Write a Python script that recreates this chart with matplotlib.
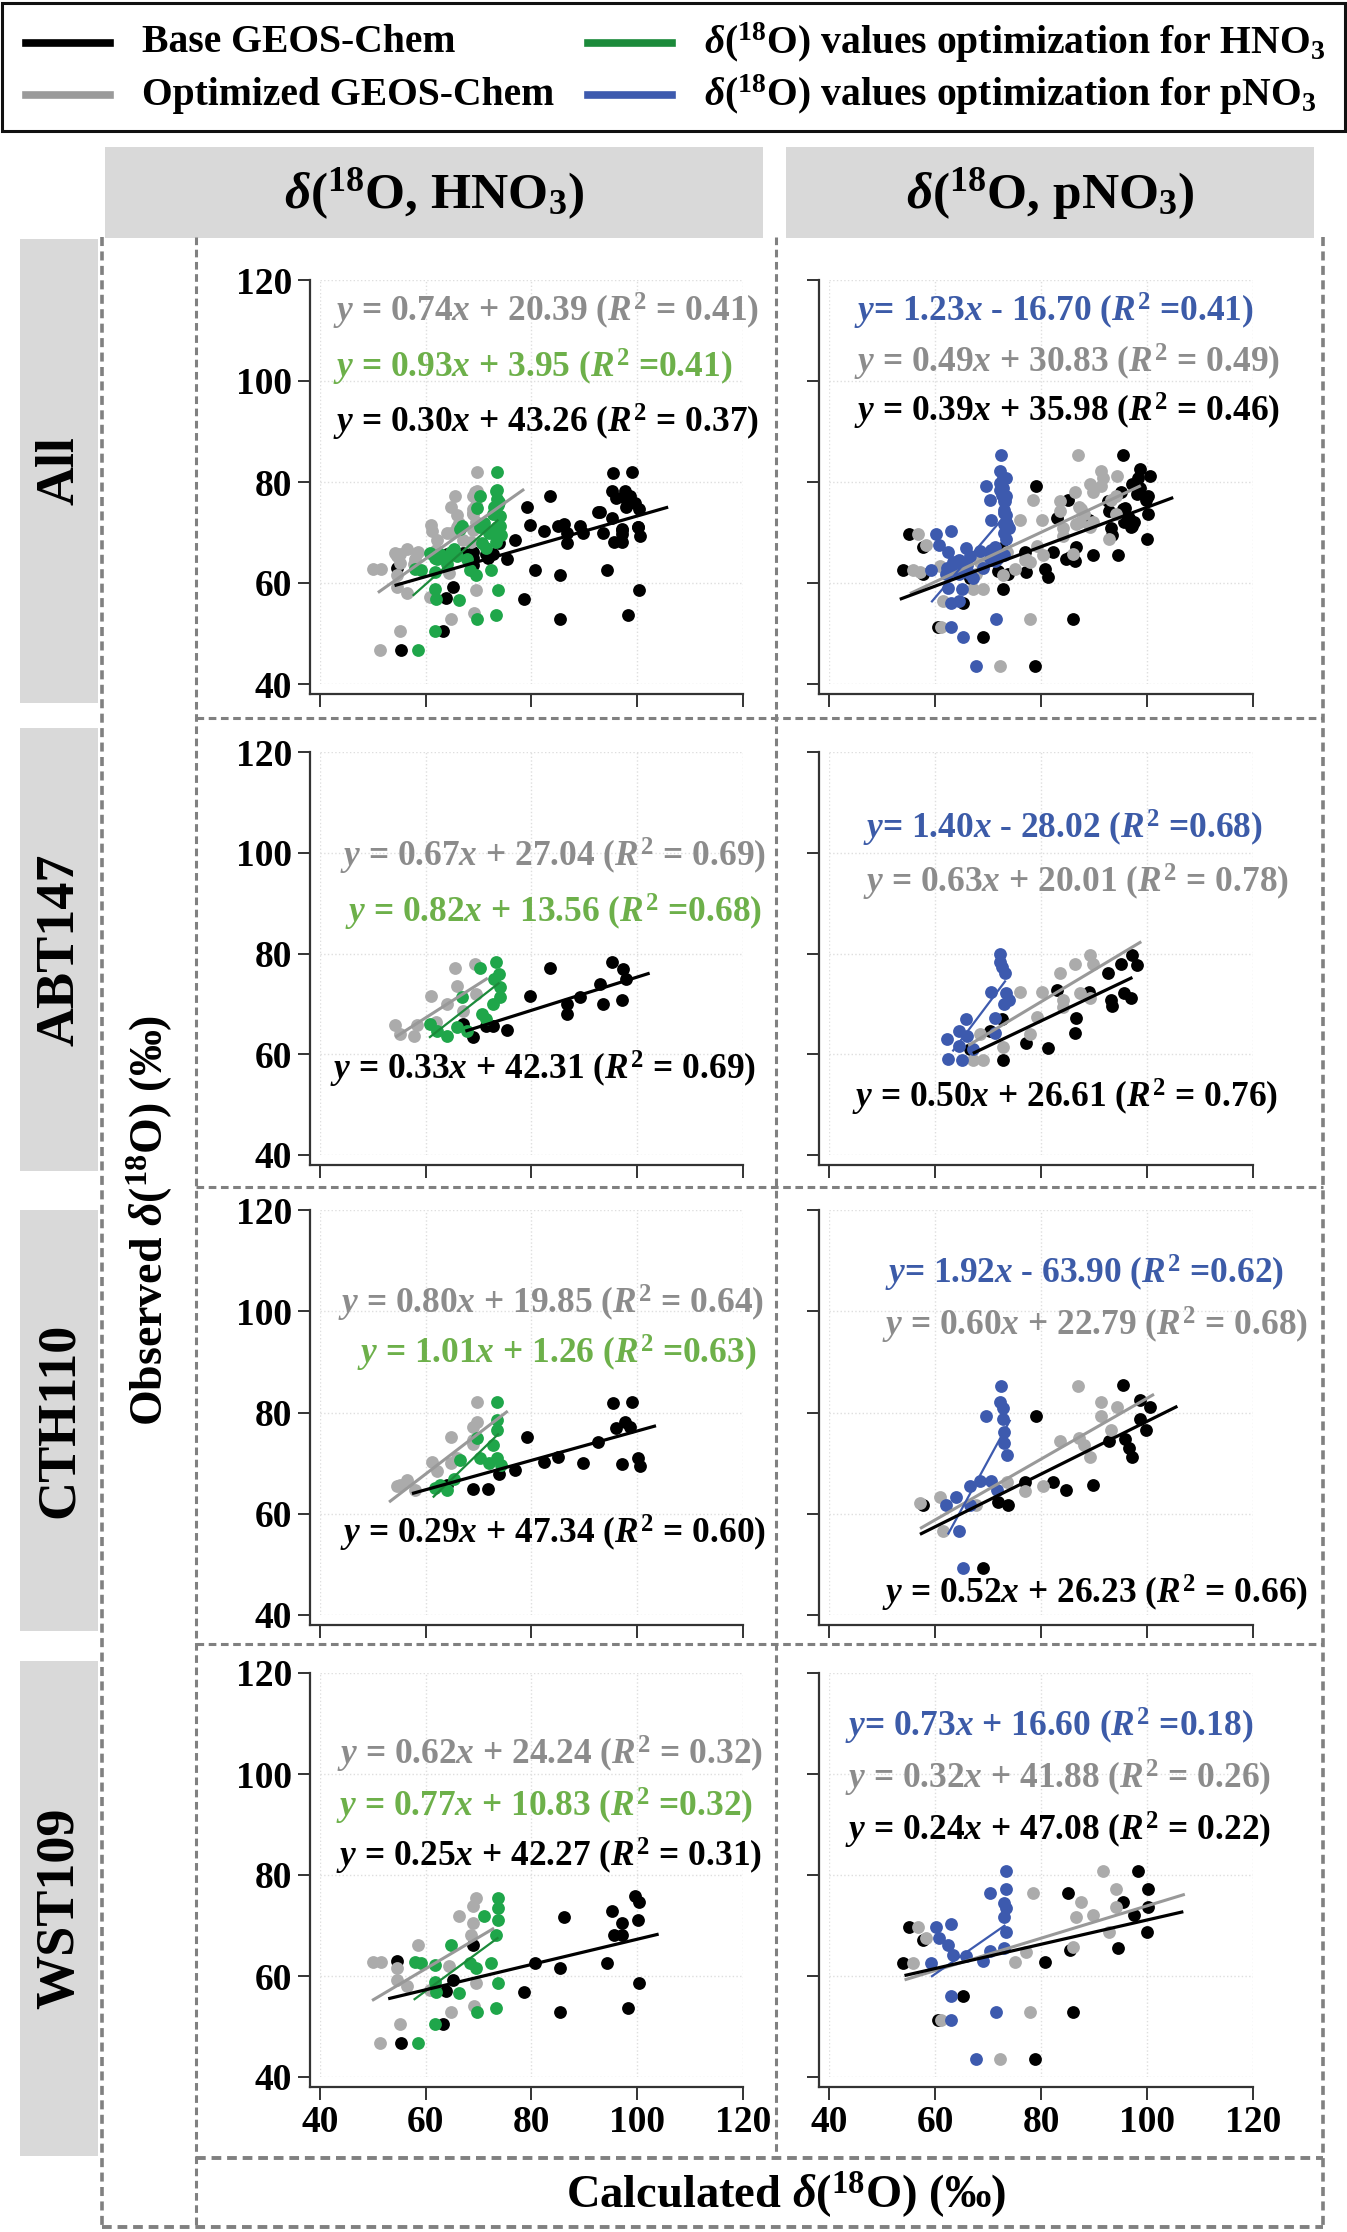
import matplotlib
matplotlib.use("Agg")
import matplotlib.pyplot as plt
from matplotlib.lines import Line2D
from matplotlib.patches import Rectangle
import numpy as np

plt.rcParams['font.family'] = ['Liberation Serif', 'DejaVu Serif']
plt.rcParams['font.weight'] = 'bold'
plt.rcParams['mathtext.fontset'] = 'custom'
plt.rcParams['mathtext.rm'] = 'Liberation Serif:bold'
plt.rcParams['mathtext.it'] = 'Liberation Serif:italic:bold'
plt.rcParams['mathtext.bf'] = 'Liberation Serif:bold'

# ---------------- data ----------------
SITES = ['All', 'ABT147', 'CTH110', 'WST109']
COLUMNS = ['HNO$_3$', 'pNO$_3$']

# ABT147, HNO3
ABT_H_BASE_X = [83.5, 95.2, 97.4, 98.0, 93.0, 79.7, 86.7, 89.2, 93.6, 97.1, 86.7, 67.1, 71.5, 75.3, 69.0, 72.8]
ABT_H_BASE_Y = [77.2, 78.3, 77.0, 75.0, 74.0, 71.5, 70.0, 71.3, 69.9, 70.7, 68.0, 66.0, 65.7, 64.8, 63.5, 65.7]
ABT_H_OPT_X = [65.5, 69.3, 61.1, 54.2, 55.1, 57.7, 58.3, 64.0, 67.0, 69.5, 62.0, 66.0]
ABT_H_OPT_Y = [77.2, 78.0, 71.5, 65.9, 64.0, 63.7, 65.9, 70.0, 68.5, 72.0, 66.5, 73.5]
ABT_H_ISO_X = [70.3, 73.4, 73.8, 74.1, 66.8, 74.1, 70.6, 60.8, 62.1, 64.0, 65.9, 67.8, 72.8, 71.5, 73.0]
ABT_H_ISO_Y = [77.2, 78.3, 76.0, 73.3, 71.3, 71.3, 68.0, 66.0, 64.7, 63.7, 65.4, 64.7, 70.0, 67.0, 75.0]

# ABT147, pNO3
ABT_P_BASE_X = [97.1, 95.2, 98.1, 92.7, 83.0, 89.1, 93.2, 95.7, 97.0, 93.5, 86.7, 86.4, 72.6, 70.4, 77.2, 81.3, 72.9, 66.6]
ABT_P_BASE_Y = [79.7, 78.0, 77.7, 76.2, 72.8, 72.4, 70.8, 72.1, 71.1, 69.6, 67.2, 64.3, 66.9, 64.6, 62.2, 61.2, 58.9, 61.0]
ABT_P_OPT_X = [89.3, 86.4, 83.6, 89.9, 76.0, 80.1, 84.2, 87.4, 89.3, 84.2, 79.2, 77.9, 72.9, 67.2, 69.1, 68.5]
ABT_P_OPT_Y = [79.7, 78.0, 76.2, 78.0, 72.4, 72.4, 70.8, 72.1, 71.1, 69.4, 67.4, 64.1, 61.5, 58.8, 58.8, 64.1]
ABT_P_ISO_X = [72.3, 72.3, 72.6, 73.2, 70.6, 73.4, 74.0, 73.1, 71.3, 65.9, 64.6, 62.2, 66.1, 64.6, 62.5, 65.0, 67.2, 71.3]
ABT_P_ISO_Y = [79.9, 78.4, 77.4, 76.2, 72.4, 72.1, 70.8, 69.9, 67.2, 66.9, 64.6, 63.0, 63.6, 61.7, 59.0, 58.9, 61.0, 64.3]

# CTH110, HNO3
CTH_H_BASE_X = [95.5, 99.0, 97.7, 96.1, 98.6, 79.1, 92.7, 85.1, 82.3, 89.8, 97.1, 100.2, 100.6, 76.9, 73.8, 69.0, 71.8, 64.0]
CTH_H_BASE_Y = [81.8, 82.0, 78.2, 76.9, 77.2, 75.1, 74.1, 71.2, 70.2, 70.0, 69.8, 71.0, 69.4, 68.6, 67.9, 64.9, 64.9, 65.7]
CTH_H_OPT_X = [69.7, 69.7, 69.0, 64.7, 69.0, 61.2, 62.1, 64.7, 55.2, 56.5, 58.0, 54.6, 69.0, 65.9]
CTH_H_OPT_Y = [82.0, 78.2, 77.2, 75.1, 74.6, 70.2, 68.5, 70.0, 65.7, 66.7, 64.7, 65.4, 73.7, 71.0]
CTH_H_ISO_X = [73.5, 73.5, 73.5, 69.7, 72.8, 66.5, 70.3, 73.5, 74.2, 64.0, 62.8, 61.8, 65.3, 72.0]
CTH_H_ISO_Y = [82.0, 78.5, 76.6, 74.9, 73.6, 70.6, 71.0, 71.0, 69.6, 64.7, 65.7, 65.0, 66.8, 70.0]

# CTH110, pNO3
CTH_P_BASE_X = [95.5, 98.7, 100.6, 79.1, 98.7, 99.9, 92.9, 95.8, 96.7, 97.1, 77.0, 82.3, 84.8, 89.8, 71.9, 73.8, 69.1, 57.7]
CTH_P_BASE_Y = [85.4, 82.5, 81.1, 79.3, 78.8, 76.5, 74.3, 74.8, 72.9, 71.3, 66.2, 66.2, 64.7, 65.6, 62.4, 61.8, 49.3, 61.8]
CTH_P_OPT_X = [87.0, 91.4, 94.3, 91.4, 93.3, 83.5, 87.2, 88.2, 89.2, 80.4, 76.9, 73.5, 57.1, 60.9, 61.5, 67.8]
CTH_P_OPT_Y = [85.3, 82.1, 81.1, 79.3, 76.5, 74.3, 75.0, 73.6, 71.3, 65.5, 64.5, 66.2, 62.1, 63.4, 56.5, 61.8]
CTH_P_ISO_X = [72.5, 72.2, 72.8, 69.7, 72.8, 73.1, 73.1, 73.5, 66.5, 68.4, 70.6, 71.6, 64.0, 62.1, 66.5, 64.6, 65.3]
CTH_P_ISO_Y = [85.3, 82.1, 80.8, 79.3, 78.8, 76.2, 73.9, 71.6, 65.4, 66.4, 66.5, 64.7, 63.4, 61.8, 61.8, 56.5, 49.3]

# WST109, HNO3
WST_H_BASE_X = [99.7, 100.4, 86.2, 95.3, 97.2, 100.1, 95.6, 97.2, 68.9, 54.5, 80.6, 85.4, 94.4, 65.2, 100.4, 78.7, 85.4, 98.2, 63.3, 55.4, 63.9]
WST_H_BASE_Y = [75.9, 74.7, 71.6, 72.8, 70.5, 71.1, 68.2, 68.2, 66.2, 62.9, 62.6, 61.6, 62.6, 59.3, 58.6, 56.8, 52.8, 53.7, 50.4, 46.7, 57.0]
WST_H_OPT_X = [69.6, 69.0, 66.4, 69.0, 68.6, 58.6, 50.1, 51.6, 54.5, 54.5, 56.4, 64.5, 69.6, 69.2, 64.8, 55.1, 51.3, 60.8]
WST_H_OPT_Y = [75.4, 73.8, 71.8, 70.5, 68.2, 66.2, 62.7, 62.7, 61.6, 59.3, 58.0, 61.9, 58.6, 54.0, 52.8, 50.4, 46.7, 57.3]
WST_H_ISO_X = [73.6, 73.6, 71.1, 73.6, 73.3, 64.8, 57.9, 59.2, 61.7, 68.3, 69.6, 72.4, 73.6, 61.7, 62.0, 66.4, 69.8, 73.3, 61.7, 58.6]
WST_H_ISO_Y = [75.4, 73.4, 71.8, 71.1, 68.2, 66.2, 62.7, 62.6, 62.2, 62.6, 61.6, 62.6, 58.7, 58.9, 56.9, 56.6, 52.8, 53.7, 50.4, 46.7]

# WST109, pNO3
WST_P_BASE_X = [98.4, 100.3, 85.1, 95.5, 100.3, 97.5, 100.0, 94.6, 85.4, 80.7, 55.1, 57.7, 53.9, 65.2, 86.1, 60.5, 78.8]
WST_P_BASE_Y = [80.7, 77.2, 76.4, 74.7, 73.7, 72.1, 68.8, 65.6, 65.2, 62.8, 69.8, 67.1, 62.6, 56.0, 52.8, 51.3, 43.5]
WST_P_OPT_X = [91.7, 78.5, 94.2, 87.6, 94.2, 86.6, 89.8, 92.9, 86.1, 77.2, 75.0, 56.7, 58.3, 55.8, 77.9, 61.1, 72.2]
WST_P_OPT_Y = [80.7, 76.4, 77.2, 74.7, 73.6, 71.7, 72.1, 68.8, 65.8, 64.8, 62.8, 69.8, 67.5, 62.6, 52.8, 51.3, 43.5]
WST_P_ISO_X = [73.4, 73.4, 70.3, 73.1, 73.4, 73.1, 73.4, 63.0, 60.2, 60.8, 62.4, 63.3, 65.9, 69.0, 70.3, 73.1, 59.2, 63.0, 71.5, 63.0, 67.8]
WST_P_ISO_Y = [80.7, 77.2, 76.4, 74.4, 73.4, 71.7, 68.8, 70.3, 69.8, 67.5, 66.2, 64.2, 63.9, 62.9, 64.9, 65.5, 62.6, 56.0, 52.8, 51.3, 43.5]

# regression fits per panel: (slope, intercept, R2, x_start, x_end), order = optimized, isotope-opt, base
ALL_H_FITS = [(0.74, 20.39, 0.41, 51.2, 78.4), (0.93, 3.95, 0.41, 57.7, 73.6), (0.30, 43.26, 0.37, 54.4, 105.6)]
ALL_P_FITS = [(0.49, 30.83, 0.49, 55.5, 98.6), (1.23, -16.70, 0.41, 59.4, 73.6), (0.39, 35.98, 0.46, 53.6, 104.7)]
ABT_H_FITS = [(0.67, 27.04, 0.69, 54.5, 71.5), (0.82, 13.56, 0.68, 60.8, 73.8), (0.33, 42.31, 0.69, 67.8, 102.1)]
ABT_P_FITS = [(0.63, 20.01, 0.78, 66.5, 98.7), (1.40, -28.02, 0.68, 63.4, 73.2), (0.50, 26.61, 0.76, 67.4, 97.0)]
CTH_H_FITS = [(0.80, 19.85, 0.64, 53.3, 75.3), (1.01, 1.26, 0.63, 61.5, 73.7), (0.29, 47.34, 0.60, 57.7, 103.3)]
CTH_P_FITS = [(0.60, 22.79, 0.68, 57.4, 101.1), (1.92, -63.90, 0.62, 62.5, 74.1), (0.52, 26.23, 0.66, 57.4, 105.5)]
WST_H_FITS = [(0.62, 24.24, 0.32, 50.1, 72.7), (0.77, 10.83, 0.32, 57.9, 73.6), (0.25, 42.27, 0.31, 53.2, 103.8)]
WST_P_FITS = [(0.32, 41.88, 0.26, 54.5, 106.9), (0.73, 16.60, 0.18, 59.4, 73.1), (0.24, 47.08, 0.22, 54.5, 106.6)]

# ---------------- assemble panels ----------------
site_h = {
    'ABT147': (ABT_H_OPT_X, ABT_H_OPT_Y, ABT_H_ISO_X, ABT_H_ISO_Y, ABT_H_BASE_X, ABT_H_BASE_Y),
    'CTH110': (CTH_H_OPT_X, CTH_H_OPT_Y, CTH_H_ISO_X, CTH_H_ISO_Y, CTH_H_BASE_X, CTH_H_BASE_Y),
    'WST109': (WST_H_OPT_X, WST_H_OPT_Y, WST_H_ISO_X, WST_H_ISO_Y, WST_H_BASE_X, WST_H_BASE_Y),
}
site_p = {
    'ABT147': (ABT_P_OPT_X, ABT_P_OPT_Y, ABT_P_ISO_X, ABT_P_ISO_Y, ABT_P_BASE_X, ABT_P_BASE_Y),
    'CTH110': (CTH_P_OPT_X, CTH_P_OPT_Y, CTH_P_ISO_X, CTH_P_ISO_Y, CTH_P_BASE_X, CTH_P_BASE_Y),
    'WST109': (WST_P_OPT_X, WST_P_OPT_Y, WST_P_ISO_X, WST_P_ISO_Y, WST_P_BASE_X, WST_P_BASE_Y),
}
# "All" is every site pooled together
site_h['All'] = tuple(sum((list(site_h[s][k]) for s in SITES[1:]), []) for k in range(6))
site_p['All'] = tuple(sum((list(site_p[s][k]) for s in SITES[1:]), []) for k in range(6))
fits = {
    ('All', 0): ALL_H_FITS, ('All', 1): ALL_P_FITS,
    ('ABT147', 0): ABT_H_FITS, ('ABT147', 1): ABT_P_FITS,
    ('CTH110', 0): CTH_H_FITS, ('CTH110', 1): CTH_P_FITS,
    ('WST109', 0): WST_H_FITS, ('WST109', 1): WST_P_FITS,
}

# ---------------- styling ----------------
PT_COL = {'base': '#000000', 'opt': '#ababab', 'hno3': '#1fa64a', 'pno3': '#3d5aae'}
LN_COL = {'base': '#000000', 'opt': '#999999', 'hno3': '#1b8a3a', 'pno3': '#3d5aae'}
TX_COL = {'base': '#000000', 'opt': '#8c8c8c', 'hno3': '#6db04a', 'pno3': '#3c5ba8'}
DASH = '#808080'

W, H = 1347, 2232
fig = plt.figure(figsize=(W / 100, H / 100), dpi=100)


def fx(x):
    return x / W


def fy(y):
    return 1 - y / H


def hline(x0, x1, y, lw=2.2):
    fig.add_artist(Line2D([fx(x0), fx(x1)], [fy(y), fy(y)], transform=fig.transFigure,
                          color=DASH, lw=lw, ls=(0, (2.5, 1.5))))


def vline(x, y0, y1, lw=2.2):
    fig.add_artist(Line2D([fx(x), fx(x)], [fy(y0), fy(y1)], transform=fig.transFigure,
                          color=DASH, lw=lw, ls=(0, (2.5, 1.5))))


def box(x0, y0, x1, y1, color):
    fig.add_artist(Rectangle((fx(x0), fy(y1)), (x1 - x0) / W, (y1 - y0) / H,
                             transform=fig.transFigure, color=color, lw=0, zorder=0))


# strips
STRIP = '#d9d9d9'
col_strips = [(105, 763), (786, 1314)]
for (x0, x1), name in zip(col_strips, COLUMNS):
    box(x0, 147, x1, 238, STRIP)
    fig.text(fx((x0 + x1) / 2), fy(194), r'$\delta$($^{18}$O, ' + name + ')',
             ha='center', va='center', fontsize=37, fontweight='bold')

row_strips = [(239, 703), (728, 1171), (1210, 1631), (1661, 2156)]
for (y0, y1), name in zip(row_strips, SITES):
    box(20, y0, 98, y1, STRIP)
    fig.text(fx(60), fy((y0 + y1) / 2), name, rotation=90, ha='center', va='center',
             fontsize=39, fontweight='bold')

# dashed frames
vline(102, 237, 2227, lw=2.6)
vline(196, 237, 2227)
vline(776, 237, 2158)
vline(1323, 237, 2227, lw=2.6)
for yy in [718, 1187, 1644]:
    hline(196, 1323, yy)
hline(196, 1323, 2158, lw=2.8)
hline(102, 1323, 2227, lw=2.8)

fig.text(fx(150), fy(1220), r'Observed $\delta$($^{18}$O) (‰)', rotation=90,
         ha='center', va='center', fontsize=33, fontweight='bold')
fig.text(fx(786), fy(2195), r'Calculated $\delta$($^{18}$O) (‰)',
         ha='center', va='center', fontsize=33.5, fontweight='bold')

# legend box
fig.add_artist(Rectangle((fx(2), fy(131)), 1343 / W, 128 / H, transform=fig.transFigure,
                         fill=False, ec='#111111', lw=2.2))
legend_items = [
    (26, 43, 'base', 'Base GEOS-Chem'),
    (26, 95, 'opt', 'Optimized GEOS-Chem'),
    (588, 43, 'hno3', r'$\delta$($^{18}$O) values optimization for HNO$_3$'),
    (588, 95, 'pno3', r'$\delta$($^{18}$O) values optimization for pNO$_3$'),
]
for x0, yy, key, label in legend_items:
    fig.add_artist(Line2D([fx(x0), fx(x0 + 84)], [fy(yy), fy(yy)], transform=fig.transFigure,
                          color=LN_COL[key] if key != 'opt' else '#9a9a9a', lw=5.5))
    fig.text(fx(x0 + 116), fy(yy), label, ha='left', va='center', fontsize=28.5, fontweight='bold')

# panels
col_x = [(320, 742.7), (829.3, 1252.7)]
row_y = [(280, 684), (752, 1155), (1210, 1615), (1673, 2077)]

# equation label anchors (data coords, left edge / centre) for [opt, iso, base]
label_pos = {
    ('All', 0): [(42.5, 113.7), (42.5, 102.6), (42.5, 91.7)],
    ('All', 1): [(44.6, 103.6), (44.6, 113.7), (44.6, 93.9)],
    ('ABT147', 0): [(43.8, 99.3), (44.7, 88.1), (41.9, 57.0)],
    ('ABT147', 1): [(46.4, 94.1), (46.4, 104.9), (44.2, 51.5)],
    ('CTH110', 0): [(43.4, 101.6), (47.0, 91.7), (43.8, 56.2)],
    ('CTH110', 1): [(49.9, 97.2), (50.5, 107.5), (49.9, 44.3)],
    ('WST109', 0): [(43.2, 103.8), (43.0, 93.5), (43.0, 83.6)],
    ('WST109', 1): [(43.0, 99.2), (43.0, 109.4), (43.0, 88.9)],
}


def eq_label(slope, icpt, r2, compact):
    sign = '-' if icpt < 0 else '+'
    if compact:
        return f'$y$= {slope:.2f}$x$ {sign} {abs(icpt):.2f} ($R^2$ ={r2:.2f})'
    return f'$y$ = {slope:.2f}$x$ {sign} {abs(icpt):.2f} ($R^2$ = {r2:.2f})'


OFF = 10  # px outward spine offset
for r, site in enumerate(SITES):
    for c in range(2):
        x0, x1 = col_x[c]
        y0, y1 = row_y[r]
        ax = fig.add_axes([fx(x0), fy(y1), (x1 - x0) / W, (y1 - y0) / H])
        ax.set_xlim(40, 120)
        ax.set_ylim(40, 120)
        ax.set_xticks([40, 60, 80, 100, 120])
        ax.set_yticks([40, 60, 80, 100, 120])
        ax.grid(True, color='#dedede', lw=1.0, ls=':')
        ax.set_axisbelow(True)
        for s in ['top', 'right']:
            ax.spines[s].set_visible(False)
        for s in ['left', 'bottom']:
            ax.spines[s].set_position(('outward', OFF * 0.72))
            ax.spines[s].set_color('#333333')
            ax.spines[s].set_linewidth(1.6)
        ax.spines['left'].set_bounds(40 - OFF * 80 / (y1 - y0), 120)
        ax.spines['bottom'].set_bounds(40 - OFF * 80 / (x1 - x0), 120)
        ax.tick_params(length=9, width=1.4, color='#333333', labelsize=27, pad=4)
        if c == 1:
            ax.tick_params(labelleft=False)
        if r < 3:
            ax.tick_params(labelbottom=False)
        for lab in ax.get_xticklabels() + ax.get_yticklabels():
            lab.set_fontweight('bold')

        data = site_h[site] if c == 0 else site_p[site]
        iso_key = 'hno3' if c == 0 else 'pno3'
        ax.scatter(data[4], data[5], s=85, color=PT_COL['base'], lw=0, zorder=2)
        ax.scatter(data[0], data[1], s=85, color=PT_COL['opt'], lw=0, zorder=3)
        ax.scatter(data[2], data[3], s=85, color=PT_COL[iso_key], lw=0, zorder=4)

        keys = ['opt', iso_key, 'base']
        lws = [2.2, 1.6, 2.3]
        for (slope, icpt, r2, xa, xb), key, lw, pos in zip(fits[(site, c)], keys, lws,
                                                           label_pos[(site, c)]):
            xs = np.array([xa, xb])
            ax.plot(xs, slope * xs + icpt, color=LN_COL[key], lw=lw, zorder=5)
            compact = key in ('hno3', 'pno3')
            txt = eq_label(slope, icpt, r2, compact)
            if key == 'hno3':
                txt = txt.replace('$y$=', '$y$ =')
            ax.text(pos[0], pos[1], txt, color=TX_COL[key], fontsize=25.5, fontweight='bold',
                    ha='left', va='center', clip_on=False, zorder=6)

fig.savefig('out.png', dpi=100)
